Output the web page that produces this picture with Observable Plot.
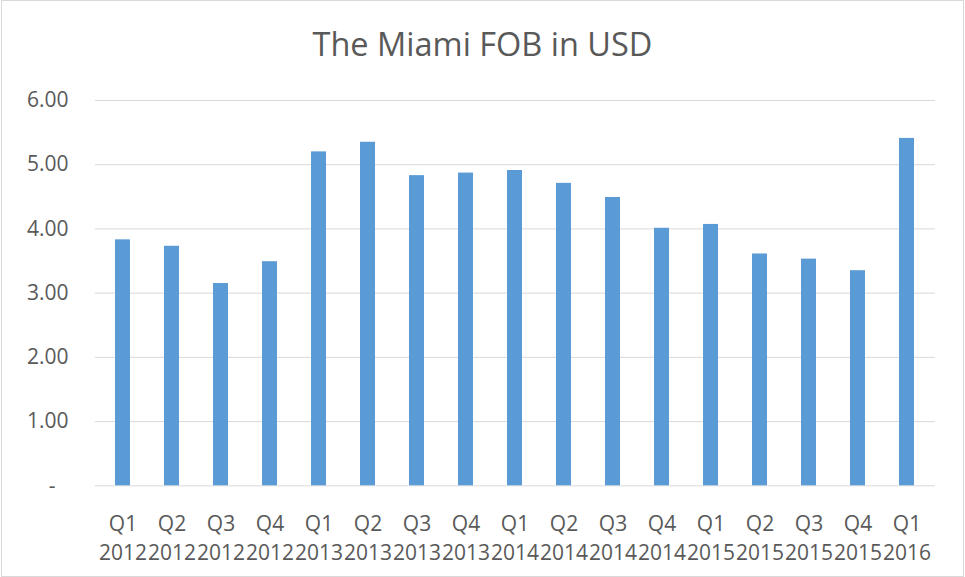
<!DOCTYPE html>
<html>
<head>
<meta charset="utf-8">
<script src="https://cdn.jsdelivr.net/npm/d3@7"></script>
<script src="https://cdn.jsdelivr.net/npm/@observablehq/plot@0.6"></script>
<style>
  html, body { margin: 0; padding: 0; background: #fff; }
  #wrap { position: relative; width: 965px; height: 577px; overflow: hidden; background: #fff; font-family: "Open Sans", sans-serif; }
  #frame { position: absolute; left: 1px; top: 0px; width: 961px; height: 575px; border: 1px solid #d9d9d9; pointer-events: none; }
  #title { position: absolute; left: 0; top: 22px; width: 965px; text-align: center; font-size: 32.5px; color: #595959; line-height: 44px; }
  #chart { position: absolute; left: 0; top: 70px; }
</style>
</head>
<body>
<div id="wrap">
  <div id="title">The Miami FOB in USD</div>
  <div id="chart"></div>
  <div id="frame"></div>
</div>
<script>
const quarters = ["Q1","Q2","Q3","Q4","Q1","Q2","Q3","Q4","Q1","Q2","Q3","Q4","Q1","Q2","Q3","Q4","Q1"];
const years = ["2012","2012","2012","2012","2013","2013","2013","2013","2014","2014","2014","2014","2015","2015","2015","2015","2016"];
const values = [3.83, 3.73, 3.15, 3.49, 5.20, 5.35, 4.83, 4.87, 4.91, 4.71, 4.49, 4.01, 4.07, 3.61, 3.53, 3.35, 5.41];
const yTicks = [0, 1, 2, 3, 4, 5, 6];

const data = values.map((v, i) => ({key: quarters[i] + "\n" + years[i], value: v}));
const order = data.map(d => d.key);

const svgH = 507;
const chart = Plot.plot({
  width: 965,
  height: svgH,
  marginLeft: 95,
  marginRight: 30,
  marginTop: 30,
  marginBottom: 91.7,
  style: { fontFamily: "Open Sans, sans-serif", color: "#595959", background: "transparent" },
  x: { type: "band", domain: order, paddingInner: 0.69, paddingOuter: 0.345, label: null },
  y: { domain: [0, 6], label: null },
  marks: [
    Plot.ruleY(yTicks, { stroke: "#d9d9d9", strokeWidth: 1 }),
    Plot.barY(data, { x: "key", y: "value", fill: "#5b9bd5", inset: 0 }),
    Plot.axisY(yTicks.filter(d => d !== 0), { tickSize: 0, tickPadding: 27, fontSize: 21, fill: "#595959", tickFormat: d => d.toFixed(2), label: null }),
    Plot.axisY([0], { tickSize: 0, tickPadding: 40, fontSize: 21, fill: "#595959", tickFormat: () => "-", label: null }),
    Plot.axisX({ tickSize: 0, tickPadding: 25, fontSize: 21, fill: "#595959", lineHeight: 1.37, label: null })
  ]
});
document.getElementById("chart").appendChild(chart);
</script>
</body>
</html>
